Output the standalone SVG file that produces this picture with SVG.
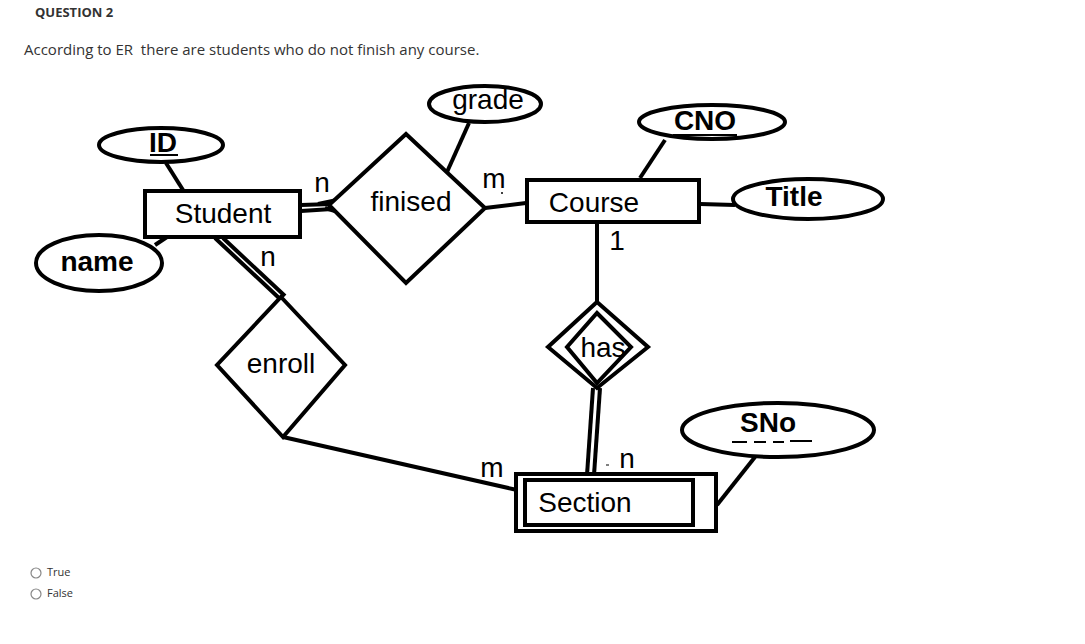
<svg xmlns="http://www.w3.org/2000/svg" width="1085" height="644" viewBox="0 0 1085 644">
<style>
.s{fill:none;stroke:#000;stroke-width:4}
.f{fill:#fff;stroke:#000;stroke-width:4}
.t{font-family:"Liberation Sans",Arial,sans-serif;font-size:28px;fill:#000}
.b{font-weight:bold}
.h{font-family:"Open Sans","Noto Sans",sans-serif;fill:#333}
.r{fill:#fff;stroke:#888;stroke-width:1.2}
</style>
<rect width="1085" height="644" fill="#fff"/>
<text class="h" x="35" y="17" font-size="13" font-weight="bold">QUESTION 2</text>
<text class="h" x="24" y="55" font-size="15">According to ER&#160; there are students who do not finish any course.</text>

<g id="connectors">
<line class="s" x1="166" y1="163" x2="183" y2="190"/>
<line class="s" x1="155" y1="245" x2="167" y2="237"/>
<line class="s" x1="301" y1="205" x2="332" y2="204" stroke-width="3"/>
<line class="s" x1="301" y1="211" x2="332" y2="209" stroke-width="3"/>
<path class="s" d="M318 204 L342 199 M325 208 L335 211" stroke-width="3"/>
<line class="s" x1="469" y1="123" x2="447" y2="172"/>
<line class="s" x1="485" y1="208" x2="526" y2="203"/>
<line class="s" x1="640" y1="178" x2="665" y2="140"/>
<line class="s" x1="700" y1="204" x2="735" y2="205"/>
<line class="s" x1="597" y1="222" x2="597" y2="302"/>
<line class="s" x1="593" y1="388" x2="587" y2="475" stroke-width="3.5"/>
<line class="s" x1="600" y1="388" x2="594" y2="475" stroke-width="3.5"/>
<line class="s" x1="215" y1="238" x2="279" y2="298" stroke-width="3"/>
<line class="s" x1="223" y1="238" x2="285" y2="296" stroke-width="3"/>
<line class="s" x1="283" y1="437" x2="517" y2="490"/>
<line class="s" x1="755" y1="457" x2="717" y2="505"/>
</g>

<g id="student">
<rect class="f" x="145" y="191" width="155" height="46"/>
<text class="t" x="223" y="223" text-anchor="middle">Student</text>
</g>
<g id="id">
<ellipse class="f" cx="161" cy="145" rx="62" ry="17"/>
<text class="t b" x="163" y="152" text-anchor="middle">ID</text>
<line x1="150" y1="155" x2="178" y2="155" stroke="#000" stroke-width="2"/>
</g>
<g id="name">
<ellipse class="f" cx="99" cy="263" rx="63" ry="28"/>
<text class="t b" x="97" y="271" text-anchor="middle">name</text>
</g>
<g id="finised">
<polygon class="f" points="406,134 485,208 406,283 329,205"/>
<text class="t" x="411" y="211" text-anchor="middle">finised</text>
</g>
<g id="grade">
<ellipse class="f" cx="485" cy="104" rx="56" ry="18"/>
<text class="t" x="488" y="109" text-anchor="middle">grade</text>
</g>
<g id="course">
<rect class="f" x="527" y="180" width="172" height="42"/>
<text class="t" x="594" y="212" text-anchor="middle">Course</text>
</g>
<g id="cno">
<ellipse class="f" cx="712" cy="122" rx="73" ry="17"/>
<text class="t b" x="705" y="130" text-anchor="middle">CNO</text>
<line x1="673" y1="135" x2="737" y2="135" stroke="#000" stroke-width="2"/>
</g>
<g id="title">
<ellipse class="f" cx="808" cy="199" rx="75" ry="20"/>
<text class="t b" x="794" y="206" text-anchor="middle">Title</text>
</g>
<g id="has">
<polygon class="f" points="597,302 648,347 597,388 548,347"/>
<polygon class="s" points="597,313 631,347 597,383 567,347"/>
<text class="t" x="603" y="357" text-anchor="middle">has</text>
</g>
<g id="section">
<rect class="f" x="516" y="474" width="200" height="57"/>
<rect class="s" x="525" y="480" width="168" height="45"/>
<text class="t" x="585" y="512" text-anchor="middle">Section</text>
</g>
<g id="sno">
<ellipse class="f" cx="778" cy="430" rx="96" ry="27"/>
<text class="t b" x="768" y="432" text-anchor="middle">SNo</text>
<path d="M732 442 H747 M754 442 H766 M773 442 H784 M790 441 H812" stroke="#000" stroke-width="2"/>
</g>
<g id="enroll">
<polygon class="f" points="281,297 345,365 283,437 217,365"/>
<text class="t" x="281" y="373" text-anchor="middle">enroll</text>
</g>

<g id="labels">
<text class="t" x="322" y="192" text-anchor="middle" font-size="26">n</text>
<text class="t" x="494" y="188" text-anchor="middle" font-size="26">m</text>
<circle cx="502" cy="193" r="1" fill="#000"/>
<text class="t" x="268" y="266" text-anchor="middle" font-size="26">n</text>
<text class="t" x="617" y="250" text-anchor="middle" font-size="26">1</text>
<text class="t" x="627" y="468" text-anchor="middle" font-size="26">n</text>
<line x1="606" y1="465" x2="609" y2="465" stroke="#000" stroke-width="1"/>
<text class="t" x="492" y="477" text-anchor="middle" font-size="26">m</text>
</g>

<g id="options">
<circle class="r" cx="36" cy="573" r="5"/>
<text class="h" x="47" y="576" font-size="11">True</text>
<circle class="r" cx="36" cy="594" r="5"/>
<text class="h" x="47" y="597" font-size="11">False</text>
</g>
</svg>
